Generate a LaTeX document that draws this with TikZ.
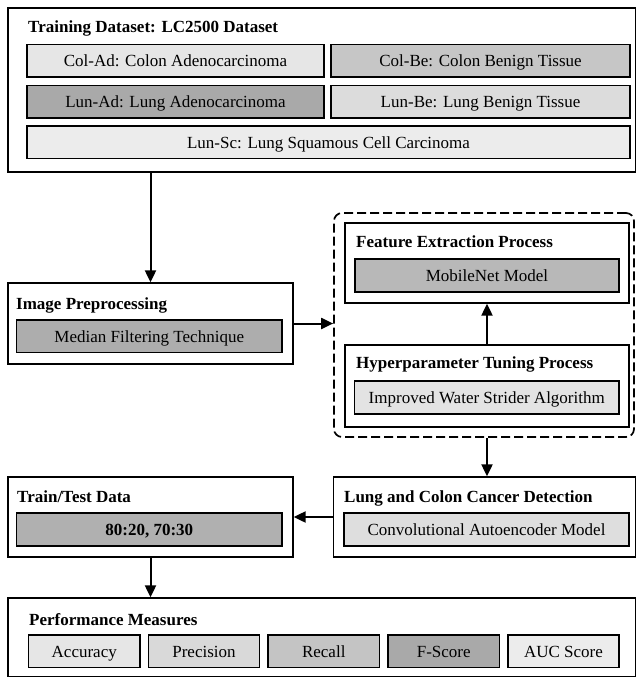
\documentclass[tikz,border=0pt]{standalone}
\usepackage{fontspec}
\setmainfont{Liberation Serif}
\usetikzlibrary{arrows.meta,fit}
\newcommand{\fsz}{\fontsize{17}{20}\selectfont}
\definecolor{gA}{HTML}{E6E6E6}
\definecolor{gB}{HTML}{C6C6C6}
\definecolor{gC}{HTML}{A9A9A9}
\definecolor{gD}{HTML}{DCDCDC}
\definecolor{gE}{HTML}{ECECEC}
\definecolor{gF}{HTML}{ADADAD}
\definecolor{gG}{HTML}{B8B8B8}
\definecolor{gH}{HTML}{E3E3E3}
\definecolor{gI}{HTML}{DEDEDE}
\definecolor{gJ}{HTML}{B0B0B0}
\definecolor{gK}{HTML}{D9D9D9}
\definecolor{gL}{HTML}{C4C4C4}
\tikzset{
  outerbox/.style={draw, line width=1.3pt, rectangle, inner sep=0pt},
  innerbox/.style={draw, line width=1.5pt, rectangle, inner sep=0pt},
  lbl/.style={inner sep=0pt, font=\fsz, text height=13pt, text depth=0.6pt},
  ttl/.style={anchor=base west, inner sep=0pt, font=\fsz\bfseries},
  dashbox/.style={draw, line width=1.7pt, dash pattern=on 9pt off 4pt, rounded corners=8pt, rectangle, inner sep=0pt},
  arr/.style={-{Triangle[length=12pt,width=11pt]}, line width=2pt}
}
\begin{document}
\begin{tikzpicture}[x=1pt,y=-1pt]
\useasboundingbox (0,0) rectangle (636,677);
% Training dataset
\node[outerbox, fit={(8,8) (635.3,172)}] (T) {};
\node[ttl] (Tt) at (28,33) {Training Dataset: LC2500 Dataset};
\node[innerbox, fill=gA, fit={(27,44.5) (324,77)}, label={[lbl]center:{Col-Ad: Colon Adenocarcinoma}}] (cola) {};
\node[innerbox, fill=gB, fit={(331,44.5) (630,77)}, label={[lbl]center:{Col-Be: Colon Benign Tissue}}] (colb) {};
\node[innerbox, fill=gC, fit={(27,85.5) (324,118)}, label={[lbl]center:{Lun-Ad: Lung Adenocarcinoma}}] (luna) {};
\node[innerbox, fill=gD, fit={(331,85.5) (630,118)}, label={[lbl]center:{Lun-Be: Lung Benign Tissue}}] (lunb) {};
\node[innerbox, fill=gE, fit={(27,126) (630,158.5)}, label={[lbl]center:{Lun-Sc: Lung Squamous Cell Carcinoma}}] (lunsc) {};
% Image preprocessing
\node[outerbox, fit={(8,283) (293,364)}] (IP) {};
\node[ttl] (IPt) at (16,309) {Image Preprocessing};
\node[innerbox, fill=gF, fit={(16.5,320) (282,352.5)}, label={[lbl]center:{Median Filtering Technique}}] (med) {};
% dashed group
\node[dashbox, fit={(334,213) (634,437)}] (D) {};
\node[outerbox, fit={(345,223) (629,303)}] (FE) {};
\node[ttl] (FEt) at (356,247) {Feature Extraction Process};
\node[innerbox, fill=gG, fit={(355,259) (619,292)}, label={[lbl]center:{MobileNet Model}}] (mob) {};
\node[outerbox, fit={(345,345) (629,427)}] (HP) {};
\node[ttl] (HPt) at (356,368) {Hyperparameter Tuning Process};
\node[innerbox, fill=gH, fit={(354.5,381) (619,414)}, label={[lbl]center:{Improved Water Strider Algorithm}}] (iwsa) {};
% Lung and colon cancer detection
\node[outerbox, fit={(333.5,477) (635.3,557)}] (LC) {};
\node[ttl] (LCt) at (344,502) {Lung and Colon Cancer Detection};
\node[innerbox, fill=gI, fit={(344,513) (629,546)}, label={[lbl]center:{Convolutional Autoencoder Model}}] (cae) {};
% Train/Test
\node[outerbox, fit={(8,477) (293,557)}] (TT) {};
\node[ttl] (TTt) at (17,502) {Train/Test Data};
\node[innerbox, fill=gJ, fit={(16.5,513) (282,546)}, label={[lbl,font=\fsz\bfseries]center:{80:20, 70:30}}] (split) {};
% Performance measures
\node[outerbox, fit={(8,598) (635.3,676.3)}] (PM) {};
\node[ttl] (PMt) at (29,625) {Performance Measures};
\node[innerbox, fill=gA, fit={(28.5,635) (140,667.5)}, label={[lbl]center:{Accuracy}}] (acc) {};
\node[innerbox, fill=gK, fit={(148.5,635) (259.5,667.5)}, label={[lbl]center:{Precision}}] (pre) {};
\node[innerbox, fill=gL, fit={(268,635) (379.5,667.5)}, label={[lbl]center:{Recall}}] (rec) {};
\node[innerbox, fill=gC, fit={(388,635) (499.5,667.5)}, label={[lbl]center:{F-Score}}] (fsc) {};
\node[innerbox, fill=gE, fit={(508,635) (619,667.5)}, label={[lbl]center:{AUC Score}}] (auc) {};
% connectors
\draw[arr] (IP.north |- T.south) -- (IP.north);
\draw[arr] (IP.east) -- (IP.east -| D.west);
\draw[arr] (HP.north) -- (FE.south);
\draw[arr] (D.south -| HP.north) -- (LC.north -| HP.north);
\draw[arr] (TT.east -| LC.west) -- (TT.east);
\draw[arr] (TT.south) -- (TT.south |- PM.north);
\end{tikzpicture}
\end{document}
